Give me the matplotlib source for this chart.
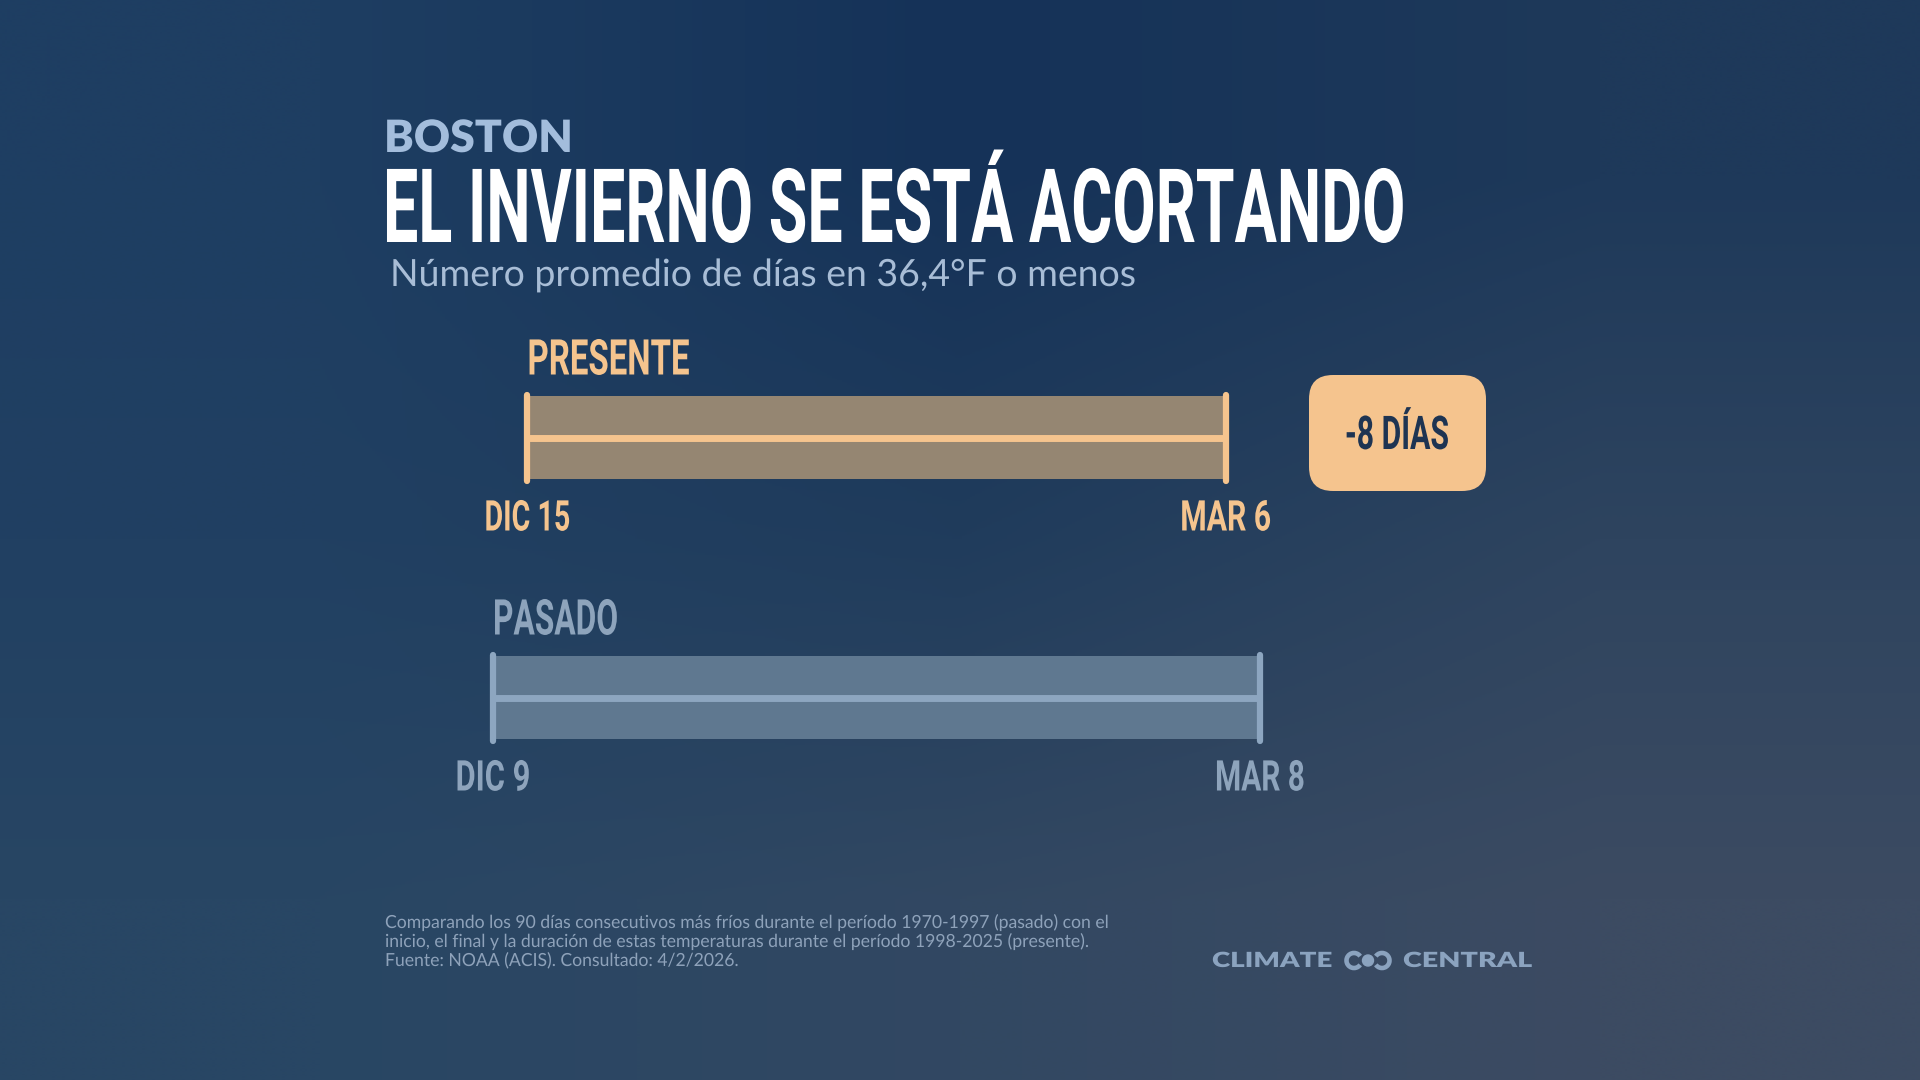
import matplotlib.pyplot as plt
import numpy as np
from matplotlib.patches import FancyBboxPatch, Arc, Circle
from matplotlib.patheffects import AbstractPathEffect
from matplotlib.transforms import Affine2D

W, H = 1920, 1080

# datos (días contados desde el 30 de noviembre: DIC 1 = 1)
city = 'BOSTON'
title = 'EL INVIERNO SE ESTÁ ACORTANDO'
subtitle = 'Número promedio de días en 36,4°F o menos'
periods = ['PRESENTE', 'PASADO']
start_days = [15, 9]
end_days = [96, 98]
start_labels = ['DIC 15', 'DIC 9']
end_labels = ['MAR 6', 'MAR 8']
notes = ['Comparando los 90 días consecutivos más fríos durante el período 1970-1997 (pasado) con el',
         'inicio, el final y la duración de estas temperaturas durante el período 1998-2025 (presente).',
         'Fuente: NOAA (ACIS). Consultado: 4/2/2026.']

# estilos
fills = ['#958672', '#5f7890']
lines = ['#f5c48e', '#8da6c0']
label_cols = ['#f5c48e', '#8ea4bc']
rows = [437.5, 697.5]


class Stretch(AbstractPathEffect):
    """deforma el texto (simula una fuente condensada)"""
    def __init__(self, sx=1.0, sy=1.0, anchor='left'):
        super().__init__()
        self.sx, self.sy = sx, sy
        self.anchor = anchor

    def draw_path(self, renderer, gc, tpath, affine, rgbFace=None):
        ext = tpath.get_extents()
        cx = 0 if self.anchor == 'left' else (ext.x0 + ext.x1) / 2
        st = Affine2D().translate(-cx, 0).scale(self.sx, self.sy).translate(cx, 0)
        renderer.draw_path(gc, tpath, st + affine, rgbFace)


fig = plt.figure(figsize=(19.2, 10.8), dpi=100)
renderer = fig.canvas.get_renderer()

# fondo degradado
px = fig.add_axes([0, 0, 1, 1])
px.set_xlim(0, W)
px.set_ylim(H, 0)
px.axis('off')
bg = np.array([[(30, 62, 98), (21, 50, 88), (30, 57, 90)],
               [(33, 64, 98), (32, 60, 92), (46, 68, 95)],
               [(40, 70, 100), (50, 72, 98), (60, 75, 98)]]) / 255
px.imshow(bg, extent=(0, W, H, 0), interpolation='bilinear', aspect='auto', zorder=0)


def fit(texts, width, ha='left'):
    # ajusta el ancho: si sobra, letra más pequeña y estirada en vertical
    w = texts[0].get_window_extent(renderer).width
    f = width / w
    for t in texts:
        if f < 1:
            t.set_fontsize(t.get_fontsize() * f)
            t.set_path_effects([Stretch(1, 1 / f, ha)])
        else:
            t.set_path_effects([Stretch(f, 1, ha)])


def put(x, y, s, size, color, width=None, ha='left', family='Roboto', weight='bold'):
    t = fig.text(x / W, 1 - y / H, s, fontsize=size, color=color, ha=ha,
                 va='baseline', family=family, weight=weight)
    if width:
        fit([t], width, ha)
    return t


put(384, 152, city, 32, '#a3bddc', width=189, family='Lato', weight='heavy')
put(383, 242, title, 74, 'white', width=1022)
put(390, 286, subtitle, 27, '#a8bdd6', width=747, family='Lato', weight='normal')

# barras: escala en días, la barra presente centrada sobre la pasada
k = (1260 - 493) / (end_days[1] - start_days[1])
ax = fig.add_axes([0, 0, 1, 1])
ax.set_xlim(start_days[1] - 493 / k, start_days[1] + (W - 493) / k)
ax.set_ylim(H, 0)
ax.axis('off')
ax.patch.set_alpha(0)

lengths = [e - s for s, e in zip(start_days, end_days)]
mid = (start_days[1] + end_days[1]) / 2
lefts = [mid - L / 2 for L in lengths]
rights = [l + L for l, L in zip(lefts, lengths)]

ax.barh(rows, lengths, left=lefts, height=83, color=fills, zorder=2)
for i in range(2):
    ax.hlines(rows[i], lefts[i], rights[i], color=lines[i], lw=5, zorder=3)
    ax.vlines([lefts[i], rights[i]], rows[i] - 43, rows[i] + 43, color=lines[i],
              lw=4.5, capstyle='round', zorder=4)
    xl = (lefts[i] - ax.get_xlim()[0]) * k
    xr = (rights[i] - ax.get_xlim()[0]) * k
    put(xl, rows[i] - 63, periods[i], 35.5, label_cols[i], width=[162, 125][i])
    put(xl, rows[i] + 93, start_labels[i], 30.5, label_cols[i], width=[86, 75][i], ha='center')
    put(xr, rows[i] + 93, end_labels[i], 30.5, label_cols[i], width=[91, 90][i], ha='center')

# recuadro de diferencia
diff = lengths[0] - lengths[1]
r = 24
px.add_patch(FancyBboxPatch((1309 + r, 375 + r), 177 - 2 * r, 116 - 2 * r,
                            boxstyle=f'round,pad={r},rounding_size={r}',
                            fc='#f5c48e', ec='none', zorder=3))
put(1397, 449, f'{diff} DÍAS', 33.5, '#1e3452', width=104, ha='center')

# nota al pie
note_texts = [put(385, 928 + 19 * j, line, 13, '#8ea2ba', family='Lato', weight='normal')
              for j, line in enumerate(notes)]
fit(note_texts, 722)

# logo
logo_col = '#8ba3bf'
put(1212, 967, 'CLIMATE', 15, logo_col, width=121, family='Lato', weight='heavy')
put(1403, 967, 'CENTRAL', 15, logo_col, width=130, family='Lato', weight='heavy')
px.add_patch(Arc((1354, 960.5), 15, 15, theta1=35, theta2=325, lw=3.3, color=logo_col, zorder=3))
px.add_patch(Arc((1382, 960.5), 15, 15, theta1=-145, theta2=145, lw=3.3, color=logo_col, zorder=3))
px.add_patch(Circle((1368, 960.5), 5.5, color=logo_col, zorder=3))

plt.savefig('out.png', dpi=100)
